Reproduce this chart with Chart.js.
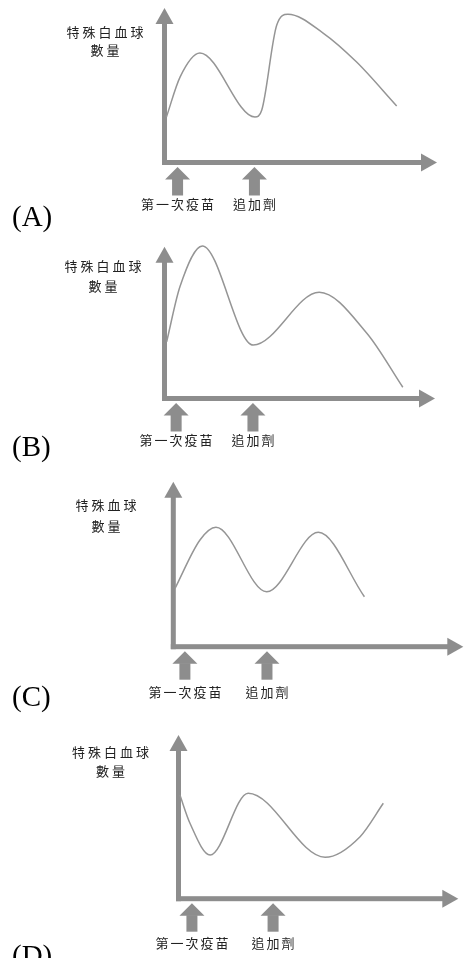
<!DOCTYPE html>
<html><head><meta charset="utf-8">
<script src="https://cdn.jsdelivr.net/npm/chart.js@4.4.0/dist/chart.umd.min.js"></script>
<style>
html,body{margin:0;padding:0;background:#fff;}
#wrap{position:relative;width:470px;height:958px;overflow:hidden;background:#fff;}
canvas{position:absolute;left:0;}
.t{position:absolute;white-space:nowrap;font-family:"Noto Sans CJK TC","Noto Sans CJK SC",sans-serif;font-size:13px;line-height:16px;color:#222;letter-spacing:2px;padding-left:2px;transform:translateX(-50%);}
.t.yt{letter-spacing:3px;padding-left:3px;}
.p{position:absolute;left:12px;font-family:"Liberation Serif","Times New Roman",serif;font-size:29px;line-height:29px;color:#000;white-space:nowrap;}
</style></head><body><div id="wrap"></div>
<script>
// ---------- data (x = time, y = cell count, 0..100 relative units) ----------
const panelLetters = ['(A)', '(B)', '(C)', '(D)'];
const yTitleLine1 = ['特殊白血球', '特殊白血球', '特殊血球', '特殊白血球'];
const yTitleLine2 = ['數量', '數量', '數量', '數量'];
const markerLabels = ['第一次疫苗', '追加劑'];

const markersA = [4.8, 33.0];
const markersB = [4.3, 32.7];
const markersC = [4.0, 32.3];
const markersD = [4.8, 33.8];

const curveAX = [0.7, 5.7, 13.0, 33.2, 35.7, 41.2, 45.3, 58.2, 70.5, 85.2];
const curveAY = [29.4, 55.3, 70.9, 29.4, 34.0, 89.0, 95.9, 83.8, 65.0, 36.6];

const curveBX = [0.8, 5.7, 14.0, 32.8, 57.2, 74.8, 88.1];
const curveBY = [37.4, 73.6, 100.5, 35.2, 70.0, 43.0, 7.4];

const curveCX = [0.6, 9.2, 14.7, 32.2, 50.0, 65.9];
const curveCY = [35.4, 64.7, 72.4, 33.3, 69.3, 30.3];

const curveDX = [0.5, 4.1, 11.3, 24.9, 52.4, 64.9, 73.2];
const curveDY = [63.3, 46.1, 26.7, 64.4, 25.3, 37.9, 58.3];

// ---------- layout (pixels) ----------
const layouts = [
  {T: 0,   H: 235, ox: 164.5, oy: 162.5, tip: 437,   top: 8,     titleX: 105,   t1: 32.5,  t2: 51,    mY: 205,   letterTop: 201.7},
  {T: 235, H: 235, ox: 164.5, oy: 398.5, tip: 435,   top: 246.7, titleX: 103,   t1: 266.5, t2: 286.7, mY: 440.3, letterTop: 431.7},
  {T: 470, H: 250, ox: 173.3, oy: 646.7, tip: 463.3, top: 481.7, titleX: 106,   t1: 505.5, t2: 526.7, mY: 692.7, letterTop: 681.7},
  {T: 720, H: 238, ox: 178.5, oy: 898.7, tip: 458.3, top: 735,   titleX: 110.5, t1: 753,   t2: 771.7, mY: 943.3, letterTop: 941}
];
const AXIS_COLOR = '#8d8d8d';
const CURVE_COLOR = '#959595';

const arrowAxes = {
  id: 'arrowAxes',
  beforeDatasetsDraw(chart, args, opts) {
    const {ctx, scales: {x, y}} = chart;
    const x0 = x.getPixelForValue(0), y0 = y.getPixelForValue(0);
    const top = y.getPixelForValue(100), right = x.getPixelForValue(100);
    const t = 5, hw = 9, hl = 16;
    ctx.save();
    ctx.fillStyle = AXIS_COLOR;
    ctx.fillRect(x0 - t / 2, top + hl - 1, t, y0 + t / 2 - (top + hl - 1));
    ctx.beginPath(); ctx.moveTo(x0, top); ctx.lineTo(x0 + hw, top + hl); ctx.lineTo(x0 - hw, top + hl); ctx.closePath(); ctx.fill();
    ctx.fillRect(x0 - t / 2, y0 - t / 2, (right - hl + 1) - (x0 - t / 2), t);
    ctx.beginPath(); ctx.moveTo(right, y0); ctx.lineTo(right - hl, y0 - hw); ctx.lineTo(right - hl, y0 + hw); ctx.closePath(); ctx.fill();
    (opts.markers || []).forEach(v => {
      const px = x.getPixelForValue(v);
      ctx.beginPath(); ctx.moveTo(px, y0 + 4.5); ctx.lineTo(px + 12.5, y0 + 17); ctx.lineTo(px - 12.5, y0 + 17); ctx.closePath(); ctx.fill();
      ctx.fillRect(px - 5.5, y0 + 16.5, 11, 16.5);
    });
    ctx.restore();
  }
};

const wrap = document.getElementById('wrap');
const curves = [[curveAX, curveAY], [curveBX, curveBY], [curveCX, curveCY], [curveDX, curveDY]];
const markers = [markersA, markersB, markersC, markersD];

function addText(cls, txt, left, top) {
  const d = document.createElement('div');
  d.className = cls;
  d.textContent = txt;
  d.style.left = left + 'px';
  d.style.top = top + 'px';
  wrap.appendChild(d);
  return d;
}

layouts.forEach((L, i) => {
  const cv = document.createElement('canvas');
  cv.width = 470; cv.height = L.H;
  cv.style.width = '470px'; cv.style.height = L.H + 'px';
  cv.style.top = L.T + 'px';
  wrap.appendChild(cv);
  const [xs, ys] = curves[i];
  const chart = new Chart(cv, {
    type: 'line',
    data: {datasets: [{
      data: xs.map((v, k) => ({x: v, y: ys[k]})),
      borderColor: CURVE_COLOR, borderWidth: 1.5, pointRadius: 0,
      cubicInterpolationMode: 'monotone', fill: false, clip: false
    }]},
    options: {
      responsive: false, animation: false, events: [],
      layout: {padding: {left: L.ox, right: 470 - L.tip, top: L.top - L.T, bottom: L.T + L.H - L.oy}},
      scales: {
        x: {type: 'linear', min: 0, max: 100, display: false},
        y: {type: 'linear', min: 0, max: 100, display: false}
      },
      plugins: {legend: {display: false}, tooltip: {enabled: false}, arrowAxes: {markers: markers[i]}}
    },
    plugins: [arrowAxes]
  });
  addText('t yt', yTitleLine1[i], L.titleX, L.t1 - 8.7);
  addText('t yt', yTitleLine2[i], L.titleX, L.t2 - 8.7);
  markers[i].forEach((v, k) => {
    addText('t', markerLabels[k], chart.scales.x.getPixelForValue(v), L.mY - 8.7);
  });
  addText('p', panelLetters[i], 12, L.letterTop);
});
</script></body></html>
